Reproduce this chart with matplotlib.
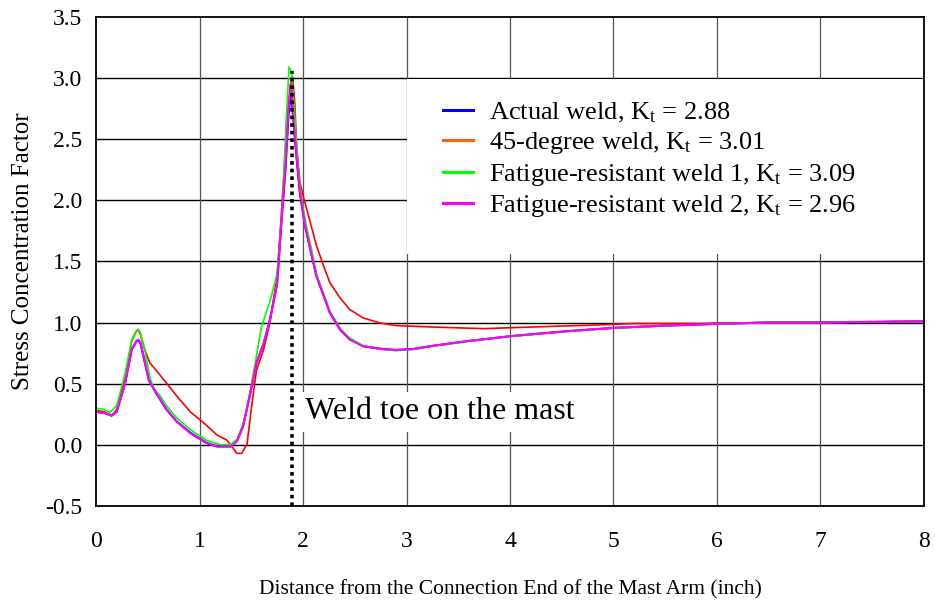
import matplotlib
matplotlib.use("Agg")
import matplotlib.pyplot as plt
from matplotlib.lines import Line2D
from matplotlib.patches import Rectangle

plt.rcParams["font.family"] = ["Liberation Serif", "DejaVu Serif"]
plt.rcParams["mathtext.fontset"] = "custom"
plt.rcParams["mathtext.rm"] = "Liberation Serif"
plt.rcParams["mathtext.it"] = "Liberation Serif:italic"

# distance from connection end (inch) and stress concentration factor
actual_x = [0.0, 0.08, 0.15, 0.20, 0.28, 0.345, 0.39, 0.41, 0.43, 0.46, 0.51, 0.59, 0.68, 0.78, 0.91,
            1.07, 1.17, 1.30, 1.36, 1.42, 1.49, 1.55, 1.62, 1.68, 1.75, 1.79, 1.83, 1.86,
            1.885, 1.91, 1.94, 1.97, 2.02, 2.07, 2.13, 2.20, 2.26, 2.36, 2.45, 2.58, 2.75,
            2.90, 3.07, 3.26, 3.58, 4.0, 4.55, 5.0, 5.5, 5.85, 6.0, 6.5, 7.0, 7.5, 8.0]
actual_y = [0.27, 0.26, 0.24, 0.27, 0.50, 0.78, 0.845, 0.855, 0.83, 0.72, 0.53, 0.41, 0.29, 0.19, 0.10,
            0.015, -0.013, -0.013, 0.03, 0.15, 0.42, 0.67, 0.83, 1.02, 1.32, 1.80, 2.25, 2.70,
            2.88, 2.62, 2.33, 2.06, 1.79, 1.60, 1.38, 1.22, 1.08, 0.94, 0.865, 0.806, 0.785,
            0.775, 0.784, 0.81, 0.847, 0.888, 0.929, 0.956, 0.975, 0.984, 0.99, 1.0, 1.0, 1.005, 1.01]

deg45_x = [0.0, 0.08, 0.15, 0.20, 0.28, 0.345, 0.39, 0.41, 0.43, 0.47, 0.52, 0.59, 0.68, 0.78, 0.91,
           1.04, 1.17, 1.26, 1.31, 1.36, 1.41, 1.46, 1.50, 1.55, 1.62, 1.68, 1.75, 1.79,
           1.84, 1.875, 1.90, 1.92, 1.94, 1.97, 2.00, 2.07, 2.13, 2.20, 2.26, 2.36, 2.45,
           2.58, 2.74, 2.90, 3.23, 3.74, 4.23, 4.87, 5.19, 5.84, 6.0, 6.5, 7.0, 8.0]
deg45_y = [0.28, 0.27, 0.235, 0.29, 0.55, 0.85, 0.93, 0.94, 0.90, 0.78, 0.67, 0.60, 0.505, 0.40, 0.27,
           0.18, 0.08, 0.04, -0.01, -0.07, -0.07, 0.01, 0.29, 0.61, 0.78, 1.0, 1.38, 1.87,
           2.55, 2.94, 3.01, 2.80, 2.42, 2.15, 2.04, 1.82, 1.63, 1.46, 1.325, 1.20, 1.107,
           1.038, 0.997, 0.975, 0.964, 0.95, 0.964, 0.981, 0.992, 0.992, 0.995, 1.0, 1.0, 1.01]

fr1_x = [0.0, 0.07, 0.135, 0.20, 0.28, 0.345, 0.39, 0.41, 0.43, 0.47, 0.52, 0.56, 0.62, 0.68, 0.78,
         0.91, 1.07, 1.20, 1.30, 1.37, 1.45, 1.53, 1.60, 1.68, 1.75, 1.80, 1.84, 1.865,
         1.89, 1.92, 1.95, 1.98, 2.03, 2.08, 2.13, 2.20, 2.26, 2.36, 2.45, 2.58, 2.75,
         2.90, 3.07, 3.26, 3.58, 4.0, 4.55, 5.0, 5.5, 5.85, 6.0, 6.5, 7.0, 7.5, 8.0]
fr1_y = [0.30, 0.29, 0.265, 0.32, 0.58, 0.86, 0.935, 0.945, 0.91, 0.78, 0.55, 0.46, 0.40, 0.32, 0.22,
         0.125, 0.035, 0.0, 0.0, 0.05, 0.25, 0.63, 0.97, 1.17, 1.40, 1.95, 2.70, 3.09,
         3.05, 2.70, 2.30, 2.05, 1.80, 1.61, 1.40, 1.23, 1.09, 0.95, 0.875, 0.81, 0.78,
         0.77, 0.78, 0.807, 0.845, 0.886, 0.928, 0.955, 0.974, 0.984, 0.99, 1.0, 1.0, 1.005, 1.01]

fr2_x = actual_x
fr2_y = [0.27, 0.26, 0.24, 0.27, 0.50, 0.78, 0.85, 0.86, 0.835, 0.72, 0.53, 0.41, 0.29, 0.19, 0.095,
         0.012, -0.015, -0.015, 0.027, 0.15, 0.42, 0.67, 0.83, 1.02, 1.32, 1.82, 2.28, 2.75,
         2.96, 2.64, 2.34, 2.07, 1.79, 1.60, 1.38, 1.22, 1.08, 0.943, 0.861, 0.806, 0.785,
         0.775, 0.784, 0.81, 0.847, 0.888, 0.929, 0.956, 0.975, 0.984, 0.99, 1.0, 1.0, 1.005, 1.01]

legend_labels = [
    "Actual weld, K$_\\mathrm{t}$ = 2.88",
    "45-degree weld, K$_\\mathrm{t}$ = 3.01",
    "Fatigue-resistant weld 1, K$_\\mathrm{t}$ = 3.09",
    "Fatigue-resistant weld 2, K$_\\mathrm{t}$ = 2.96",
]
legend_colors = ["#0000FF", "#FF6600", "#00FF00", "#FF00FF"]
weld_toe_x = 1.89
weld_toe_top = 3.06

fig = plt.figure(figsize=(9.35, 6.03), dpi=100)
ax = fig.add_axes([0.1027, 0.161, 0.8855, 0.811])

ax.set_xlim(0, 8)
ax.set_ylim(-0.5, 3.5)
ax.set_xticks(range(0, 9))
ax.set_yticks([-0.5, 0.0, 0.5, 1.0, 1.5, 2.0, 2.5, 3.0, 3.5])
ax.set_yticklabels(["%.1f" % v for v in ax.get_yticks()])
ax.tick_params(length=0, labelsize=17)
ax.tick_params(axis="x", pad=18)
ax.tick_params(axis="y", pad=10)

for v in ax.get_yticks()[1:-1]:
    ax.axhline(v, color="black", lw=1.0, zorder=0.5)
for v in ax.get_xticks()[1:-1]:
    ax.axvline(v, color="#555555", lw=0.9, zorder=0.5)
for s in ax.spines.values():
    s.set_linewidth(1.3)

# white box covering the grid behind the legend
ax.add_patch(Rectangle((3.006, 1.56), 4.994, 1.43, facecolor="white", edgecolor="none", zorder=1))

ax.plot(actual_x, actual_y, color="#0000FF", lw=1.5, zorder=2)
ax.plot(deg45_x, deg45_y, color="#FF0000", lw=1.2, zorder=2)
ax.plot(fr1_x, fr1_y, color="#00FF00", lw=1.2, zorder=2)
ax.plot(fr2_x, fr2_y, color="#FF00FF", lw=1.5, zorder=2)

ax.plot([weld_toe_x, weld_toe_x], [-0.5, weld_toe_top], color="black", lw=2.6,
        linestyle=(0, (1, 1.1)), zorder=3)
ax.text(2.02, 0.27, "Weld toe on the mast", fontsize=23, va="center", ha="left", zorder=3,
        bbox=dict(facecolor="white", edgecolor="none", pad=4))

handles = [Line2D([0], [0], color=c, lw=2.2) for c in legend_colors]
leg = ax.legend(handles, legend_labels, loc="upper left", bbox_to_anchor=(0.4186, 0.828),
                frameon=False, fontsize=19, handlelength=1.15, handletextpad=0.6,
                labelspacing=0.2, borderpad=0, borderaxespad=0)
leg.set_zorder(4)

ax.set_xlabel("Distance from the Connection End of the Mast Arm (inch)", fontsize=15.5, labelpad=20)
ax.set_ylabel("Stress Concentration Factor", fontsize=18, labelpad=8, y=0.52)

fig.savefig("out.png", dpi=100)
